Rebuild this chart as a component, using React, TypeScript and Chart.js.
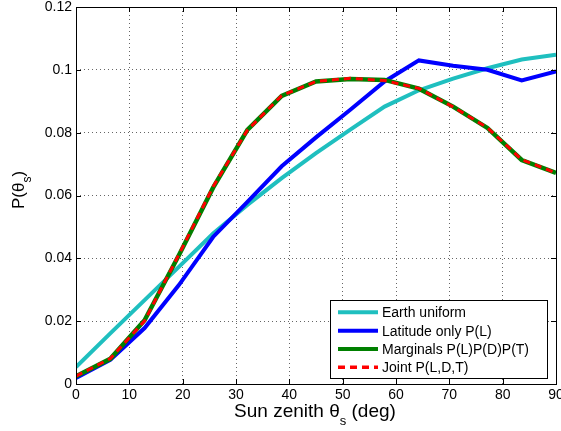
import React, { useEffect, useRef } from "react";
import { Chart, registerables } from "chart.js";

Chart.register(...registerables);

const zenith = [0, 6.43, 12.86, 19.29, 25.71, 32.14, 38.57, 45, 51.43, 57.86, 64.29, 70.71, 77.14, 83.57, 90];
const earthUniform = [0.0054, 0.0161, 0.0267, 0.0373, 0.0479, 0.0570, 0.0655, 0.0735, 0.0810, 0.0883, 0.0935, 0.0972, 0.1005, 0.1033, 0.1048];
const latitudeOnly = [0.0019, 0.0077, 0.0178, 0.0315, 0.0468, 0.0580, 0.0693, 0.0785, 0.0873, 0.0963, 0.1030, 0.1013, 0.1000, 0.0966, 0.0995];
const marginals = [0.0025, 0.0080, 0.0203, 0.0410, 0.0625, 0.0809, 0.0917, 0.0963, 0.0971, 0.0968, 0.0940, 0.0883, 0.0815, 0.0713, 0.0672];
const joint = [0.0025, 0.0081, 0.0201, 0.0412, 0.0628, 0.0808, 0.0918, 0.0963, 0.0973, 0.0966, 0.0941, 0.0882, 0.0816, 0.0714, 0.0672];
const xTicks = [0, 10, 20, 30, 40, 50, 60, 70, 80, 90];
const yTicks = [0, 0.02, 0.04, 0.06, 0.08, 0.1, 0.12];
const legendLabels = ["Earth uniform", "Latitude only P(L)", "Marginals P(L)P(D)P(T)", "Joint P(L,D,T)"];

const FONT = "'Liberation Sans', Arial, Helvetica, sans-serif";
const CYAN = "#1fbfbf";
const BLUE = "#0000ff";
const GREEN = "#008000";
const RED = "#ff0000";

function pts(ys: number[]) {
  return zenith.map((x, i) => ({ x, y: ys[i] }));
}

const overlay = {
  id: "overlay",
  afterDraw(chart: any) {
    const { ctx, chartArea: a, scales } = chart;
    const xs = scales.x, ys = scales.y;
    ctx.save();
    // box
    ctx.strokeStyle = "#000";
    ctx.lineWidth = 1;
    ctx.setLineDash([]);
    ctx.strokeRect(Math.round(a.left) + 0.5, Math.round(a.top) + 0.5, Math.round(a.right - a.left), Math.round(a.bottom - a.top));
    // inward ticks
    ctx.beginPath();
    for (const t of xTicks) {
      const px = Math.round(xs.getPixelForValue(t)) + 0.5;
      ctx.moveTo(px, a.bottom); ctx.lineTo(px, a.bottom - 5);
      ctx.moveTo(px, a.top); ctx.lineTo(px, a.top + 5);
    }
    for (const t of yTicks) {
      const py = Math.round(ys.getPixelForValue(t)) + 0.5;
      ctx.moveTo(a.left, py); ctx.lineTo(a.left + 5, py);
      ctx.moveTo(a.right, py); ctx.lineTo(a.right - 5, py);
    }
    ctx.stroke();

    // x title
    ctx.fillStyle = "#000";
    ctx.textBaseline = "alphabetic";
    ctx.textAlign = "left";
    const big = "19px " + FONT, small = "13px " + FONT;
    ctx.font = big;
    const p1 = "Sun zenith \u03b8";
    const p3 = " (deg)";
    const w1 = ctx.measureText(p1).width;
    const w3 = ctx.measureText(p3).width;
    ctx.font = small;
    const w2 = ctx.measureText("s").width;
    const total = w1 + w2 + w3;
    const x0 = 315 - total / 2;
    const by = 417;
    ctx.font = big;
    ctx.fillText(p1, x0, by);
    ctx.font = small;
    ctx.fillText("s", x0 + w1, by + 8);
    ctx.font = big;
    ctx.fillText(p3, x0 + w1 + w2, by);

    // y title
    const ybig = "17px " + FONT, ysmall = "12px " + FONT;
    ctx.save();
    ctx.translate(24, 190);
    ctx.rotate(-Math.PI / 2);
    ctx.font = ybig;
    const q1 = "P(\u03b8";
    const qw1 = ctx.measureText(q1).width;
    ctx.font = ysmall;
    const qw2 = ctx.measureText("s").width;
    ctx.font = ybig;
    const qw3 = ctx.measureText(")").width;
    const qt = qw1 + qw2 + qw3;
    const q0 = -qt / 2;
    ctx.fillText(q1, q0, 0);
    ctx.font = ysmall;
    ctx.fillText("s", q0 + qw1, 7);
    ctx.font = ybig;
    ctx.fillText(")", q0 + qw1 + qw2, 0);
    ctx.restore();

    // legend
    const lx = 330.5, ly = 300.5, lw = 217, lh = 78;
    ctx.fillStyle = "#fff";
    ctx.fillRect(lx, ly, lw, lh);
    ctx.strokeStyle = "#000";
    ctx.lineWidth = 1;
    ctx.strokeRect(lx, ly, lw, lh);
    const rows = [312.3, 330.7, 349, 367.3];
    const cols = [CYAN, BLUE, GREEN, RED];
    ctx.font = "14px " + FONT;
    ctx.textBaseline = "middle";
    rows.forEach((ry, i) => {
      ctx.beginPath();
      ctx.strokeStyle = cols[i];
      if (i === 3) {
        ctx.lineWidth = 3.5;
        ctx.setLineDash([7, 5]);
      } else {
        ctx.lineWidth = 4;
        ctx.setLineDash([]);
      }
      ctx.moveTo(338, ry);
      ctx.lineTo(378, ry);
      ctx.stroke();
      ctx.setLineDash([]);
      ctx.fillStyle = "#000";
      ctx.fillText(legendLabels[i], 382, ry + 1);
    });
    ctx.restore();
  },
};

export default function App() {
  const ref = useRef<HTMLCanvasElement | null>(null);
  useEffect(() => {
    if (!ref.current) return;
    const chart = new Chart(ref.current, {
      type: "line",
      data: {
        datasets: [
          { label: legendLabels[0], data: pts(earthUniform), borderColor: CYAN, borderWidth: 4, pointRadius: 0, tension: 0, order: 4 },
          { label: legendLabels[1], data: pts(latitudeOnly), borderColor: BLUE, borderWidth: 4, pointRadius: 0, tension: 0, order: 3 },
          { label: legendLabels[2], data: pts(marginals), borderColor: GREEN, borderWidth: 4.5, pointRadius: 0, tension: 0, order: 2 },
          { label: legendLabels[3], data: pts(joint), borderColor: RED, borderWidth: 3, borderDash: [7, 5], pointRadius: 0, tension: 0, order: 1 },
        ],
      },
      options: {
        animation: false,
        responsive: false,
        devicePixelRatio: 1,
        layout: { padding: { left: 0, top: 7, right: 5, bottom: 0 } },
        plugins: { legend: { display: false }, tooltip: { enabled: false } },
        scales: {
          x: {
            type: "linear",
            min: 0,
            max: 90,
            afterBuildTicks: (s: any) => { s.ticks = xTicks.map((v) => ({ value: v })); },
            afterFit: (s: any) => { s.height = 47; s.paddingLeft = 0; s.paddingRight = 0; },
            ticks: { color: "#000", font: { family: FONT, size: 14 }, padding: 3, maxRotation: 0, autoSkip: false },
            grid: { color: "#666", lineWidth: 1, drawTicks: false },
            border: { display: false, dash: [1, 3] },
          },
          y: {
            type: "linear",
            min: 0,
            max: 0.12,
            afterBuildTicks: (s: any) => { s.ticks = yTicks.map((v) => ({ value: v })); },
            afterFit: (s: any) => { s.width = 76; s.paddingTop = 0; s.paddingBottom = 0; },
            ticks: {
              color: "#000",
              font: { family: FONT, size: 14 },
              padding: 4,
              callback: (v: any) => String(Number(Number(v).toFixed(2))),
            },
            grid: { color: "#666", lineWidth: 1, drawTicks: false },
            border: { display: false, dash: [1, 3] },
          },
        },
      },
      plugins: [overlay],
    });
    return () => chart.destroy();
  }, []);
  return (
    <div style={{ position: "fixed", left: 0, top: 0, width: 561, height: 431, background: "#fff" }}>
      <canvas ref={ref} width={561} height={431} style={{ width: 561, height: 431 }} />
    </div>
  );
}
